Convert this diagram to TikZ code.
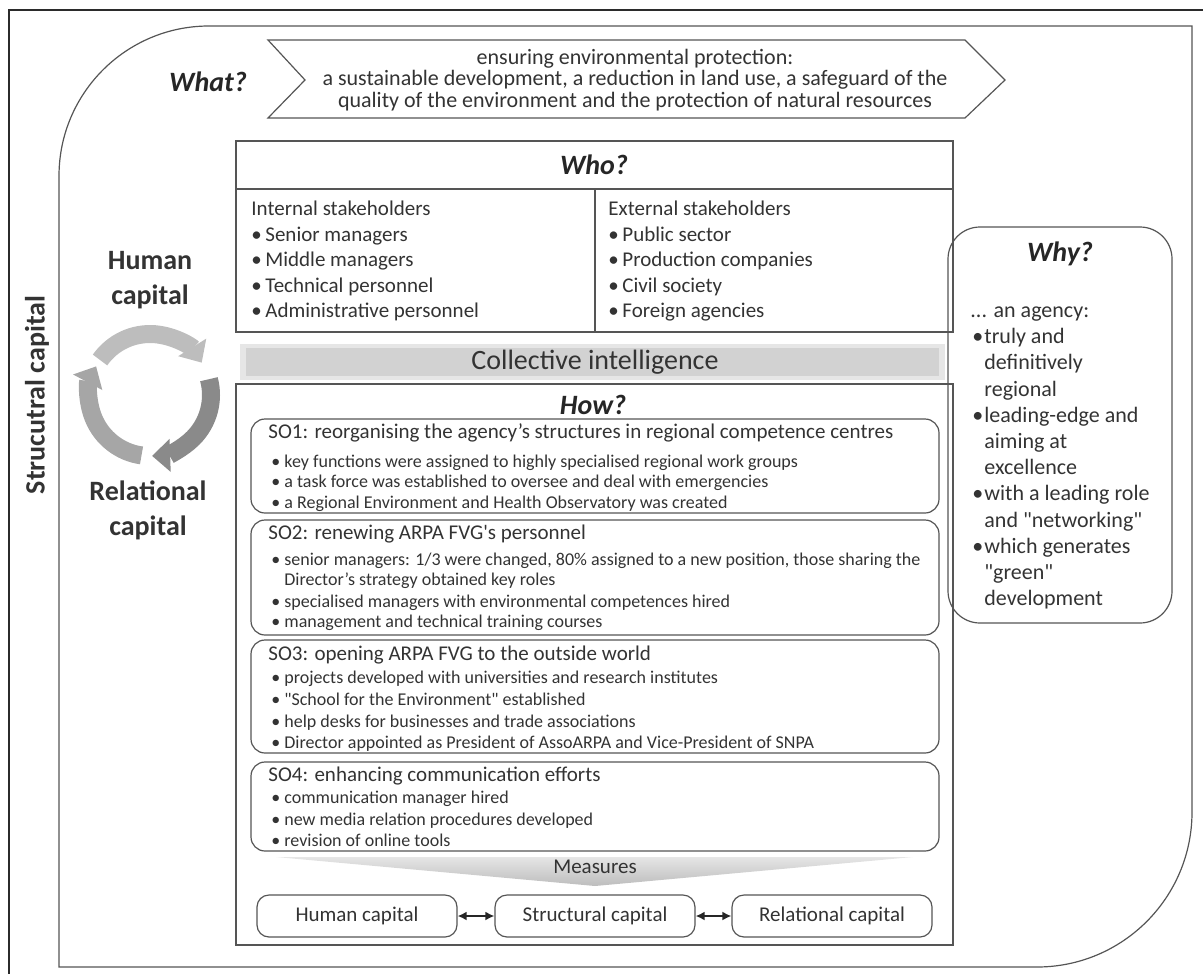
\documentclass[tikz,border=0pt]{standalone}
\usepackage{fontspec}
\newfontfamily\carl{Carlito}
\usetikzlibrary{arrows.meta}
\definecolor{InkGray}{HTML}{333333}
\definecolor{LineGray}{HTML}{555555}
\definecolor{FrameGray}{HTML}{2B2B2B}
\definecolor{BarGray}{HTML}{D2D2D2}
\definecolor{CycleLight}{HTML}{BDBDBD}
\definecolor{CycleMid}{HTML}{A6A6A6}
\definecolor{CycleDark}{HTML}{8A8A8A}
\newcommand{\itm}[1][6.5pt]{\makebox[#1][l]{\textbullet}}
\newcommand{\tightlines}{\lineskiplimit-20pt\relax}

\begin{document}
\begin{tikzpicture}[x=0.5pt,y=0.5pt,
  every node/.style={font=\carl\fontsize{10.5}{13}\selectfont, text=InkGray, inner sep=0pt},
  thinline/.style={draw=LineGray, line width=0.6pt},
  txtline/.style={anchor=west, text height=0.72em, text depth=0.22em},
  qlabel/.style={font=\carl\bfseries\itshape\fontsize{14}{16}\selectfont, text=black!85},
  capital/.style={font=\carl\bfseries\fontsize{14}{17.5}\selectfont, align=center},
  sotitle/.style={txtline, font=\carl\fontsize{10.5}{12}\selectfont},
  soitem/.style={txtline, font=\carl\fontsize{9}{10}\selectfont},
  whyline/.style={txtline, font=\carl\fontsize{11}{13}\selectfont},
  capbox/.style={thinline, rounded corners=6pt, minimum width=100pt, minimum height=21pt},
  cycarrow/.style={line width=9pt, -{Triangle[width=16pt,length=9pt]}}]
  \useasboundingbox (0,0) rectangle (1203,-974);

  \draw[FrameGray, line width=1pt] (1203,-10) -- (9,-10) -- (9,-974);
  \draw[thinline] (59,-967) -- (59,-176) arc[start angle=180,end angle=90,radius=150]
    -- (1192,-26) -- (1192,-812) arc[start angle=0,end angle=-90,radius=155] -- cycle;

  \node[rotate=90, font=\carl\bfseries\fontsize{14}{16}\selectfont] (structural) at (37,-395) {Strucutral capital};

  \node[qlabel] (what) at (208,-82) {What?};
  \draw[thinline] (268,-40) -- (965,-40) -- (1005,-80) -- (965,-118) -- (268,-118) -- (305,-80) -- cycle;
  \node[align=center, font={\carl\fontsize{11}{10.6}\selectfont\tightlines}] (whattext) at (635,-80)
    {ensuring environmental protection:\\a sustainable development, a reduction in land use, a safeguard of the\\quality of the environment and the protection of natural resources};

  \draw[thinline] (236,-141) rectangle (953,-332);
  \draw[thinline] (236,-189) -- (953,-189);
  \draw[thinline] (595,-189) -- (595,-332);
  \node[qlabel] (who) at (594,-165) {Who?};
  \node[txtline] (internal) at (251,-210) {Internal stakeholders};
  \foreach \y/\t [count=\i] in {236/Senior managers, 261/Middle managers, 287/Technical personnel, 312/Administrative personnel}
    \node[txtline] (int-\i) at (251,-\y) {\itm[7pt]\t};
  \node[txtline] (external) at (608,-210) {External stakeholders};
  \foreach \y/\t [count=\i] in {236/Public sector, 261/Production companies, 287/Civil society, 312/Foreign agencies}
    \node[txtline] (ext-\i) at (608,-\y) {\itm[7pt]\t};

  \fill[BarGray!55] (240,-344) rectangle (945,-380);
  \fill[BarGray] (246,-348) rectangle (939,-376);
  \node[font=\carl\fontsize{14}{16}\selectfont] (collective) at (595,-362) {Collective intelligence};

  \draw[thinline] (236,-384) rectangle (953,-945);
  \node[qlabel] (how) at (593,-405) {How?};

  \draw[thinline, rounded corners=7pt] (251,-419) rectangle (939,-513);
  \node[sotitle] (so1) at (268,-433) {SO1: reorganising the agency’s structures in regional competence centres};
  \foreach \x/\y/\t [count=\i] in {271/462/{\itm key functions were assigned to highly specialised regional work groups},
      271/482/{\itm a task force was established to oversee and deal with emergencies},
      271/503/{\itm a Regional Environment and Health Observatory was created}}
    \node[soitem] (so1-\i) at (\x,-\y) {\t};

  \draw[thinline, rounded corners=7pt] (251,-520) rectangle (939,-635);
  \node[sotitle] (so2) at (268,-534) {SO2: renewing ARPA FVG's personnel};
  \foreach \x/\y/\t [count=\i] in {271/560/{\itm senior managers: 1/3 were changed, 80\% assigned to a new position, those sharing the},
      284/580/{Director’s strategy obtained key roles},
      271/602/{\itm specialised managers with environmental competences hired},
      271/622/{\itm management and technical training courses}}
    \node[soitem] (so2-\i) at (\x,-\y) {\t};

  \draw[thinline, rounded corners=7pt] (251,-640) rectangle (939,-753);
  \node[sotitle] (so3) at (268,-655) {SO3: opening ARPA FVG to the outside world};
  \foreach \x/\y/\t [count=\i] in {271/678/{\itm projects developed with universities and research institutes},
      271/700/{\itm "School for the Environment" established},
      271/722/{\itm help desks for businesses and trade associations},
      271/743/{\itm Director appointed as President of AssoARPA and Vice-President of SNPA}}
    \node[soitem] (so3-\i) at (\x,-\y) {\t};

  \draw[thinline, rounded corners=7pt] (251,-762) rectangle (939,-851);
  \node[sotitle] (so4) at (268,-776) {SO4: enhancing communication efforts};
  \foreach \x/\y/\t [count=\i] in {271/798/{\itm communication manager hired},
      271/820/{\itm new media relation procedures developed},
      271/841/{\itm revision of online tools}}
    \node[soitem] (so4-\i) at (\x,-\y) {\t};

  \shade[top color=black!10, bottom color=black!26] (276,-857) -- (913,-857) -- (595,-886) -- cycle;
  \node (measures) at (595,-867) {Measures};

  \node[capbox] (hc) at (357,-916) {Human capital};
  \node[capbox] (sc) at (595,-916) {Structural capital};
  \node[capbox] (rc) at (832,-916) {Relational capital};
  \draw[{Latex[length=4.5pt,width=4.5pt]}-{Latex[length=4.5pt,width=4.5pt]}, line width=0.9pt, black!85] (hc) -- (sc);
  \draw[{Latex[length=4.5pt,width=4.5pt]}-{Latex[length=4.5pt,width=4.5pt]}, line width=0.9pt, black!85] (sc) -- (rc);

  \draw[thinline, rounded corners=16pt] (948,-227) rectangle (1172,-623);
  \node[qlabel] (why) at (1060,-254) {Why?};
  \foreach \x/\y/\t [count=\i] in {970/312/{... an agency:}, 972/338/{\itm[6pt]truly and}, 984/364/definitively,
      984/391/regional, 972/417/{\itm[6pt]leading-edge and}, 984/443/aiming at, 984/469/excellence,
      972/495/{\itm[6pt]with a leading role}, 984/522/{and "networking"}, 972/548/{\itm[6pt]which generates},
      984/574/{"green"}, 984/600/development}
    \node[whyline] (why-\i) at (\x,-\y) {\t};

  \node[capital] (human) at (150,-280) {Human\\capital};
  \node[capital] (relational) at (148,-510) {Relational\\capital};
  \coordinate (cyc) at (150,-395);
  \draw[cycarrow, CycleLight] ([shift={(145:61)}]cyc) arc[start angle=145,end angle=32,radius=61];
  \draw[cycarrow, CycleDark] ([shift={(15:61)}]cyc) arc[start angle=15,end angle=-88,radius=61];
  \draw[cycarrow, CycleMid] ([shift={(262:61)}]cyc) arc[start angle=262,end angle=152,radius=61];
\end{tikzpicture}
\end{document}
